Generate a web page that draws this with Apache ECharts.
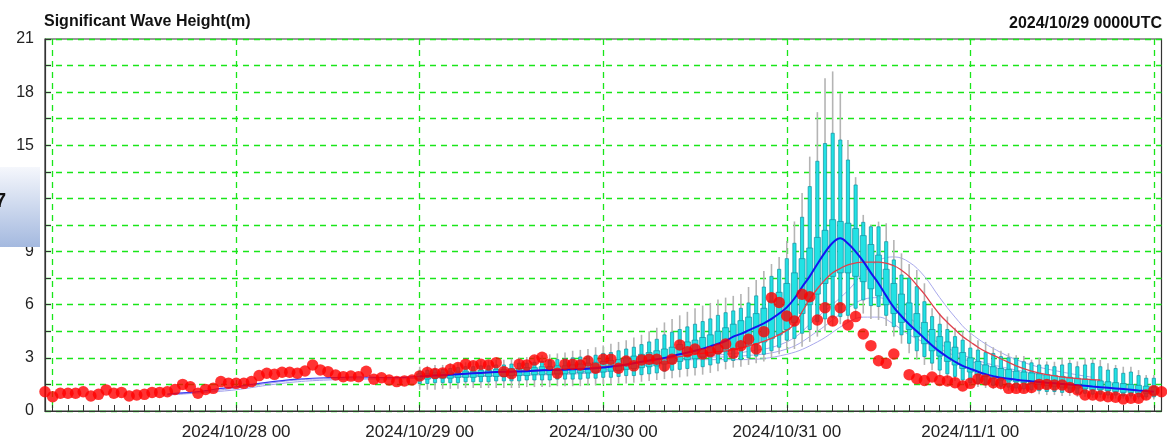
<!DOCTYPE html>
<html><head><meta charset="utf-8">
<script src="https://cdn.jsdelivr.net/npm/echarts@6/dist/echarts.min.js"></script>
<style>html,body{margin:0;padding:0;background:#fff;}#c{width:1167px;height:442px;}</style>
</head><body><div id="c"></div>
<script>
// ---------- DATA ----------
var titleText = 'Significant Wave Height(m)';
var initText = '2024/10/29 0000UTC';
var xStartHour = -1, xEndHour = 145;          // hours from 2024/10/27 00 UTC
var xTickHours  = [24, 48, 72, 96, 120];
var xTickLabels = ['2024/10/28 00', '2024/10/29 00', '2024/10/30 00', '2024/10/31 00', '2024/11/1 00'];

// observations (red dots), hourly from hour -1
var obsStart = -1;
var obsVals = [1.09,0.81,1.0,1.0,1.0,1.09,0.85,0.94,1.19,1.0,1.05,0.85,0.9,0.94,1.05,1.05,1.09,1.22,1.5,1.37,
1.0,1.22,1.28,1.66,1.56,1.56,1.56,1.66,2.0,2.13,2.07,2.19,2.19,2.13,2.26,2.6,2.32,2.22,2.03,1.94,
1.97,1.94,2.24,1.79,1.88,1.75,1.66,1.7,1.75,1.98,2.18,2.12,2.15,2.35,2.45,2.64,2.55,2.64,2.6,2.73,
2.22,2.1,2.64,2.6,2.88,3.03,2.64,2.13,2.64,2.64,2.6,2.82,2.41,2.92,2.92,2.41,2.82,2.55,2.88,2.92,
2.92,2.54,2.92,3.73,3.35,3.5,3.22,3.35,3.5,3.78,3.26,3.69,4.05,3.5,4.48,6.4,6.13,5.36,5.08,6.59,
6.45,5.14,5.83,5.08,5.83,4.86,5.33,4.35,3.69,2.84,2.69,3.22,null,2.05,1.82,1.72,1.92,1.72,1.7,1.6,
1.41,1.56,1.81,1.75,1.6,1.56,1.28,1.28,1.28,1.33,1.5,1.5,1.47,1.47,1.33,1.19,0.9,0.9,0.85,0.81,
0.78,0.68,0.72,0.72,0.9,1.15,1.09];

// analysis line (thin blue) before forecast start
var anaHours = [15,16,18,20,22,24,26,28,30,32,34,36,38,40,42,44,46,48];
var anaVals  = [0.95,1.0,1.05,1.15,1.28,1.37,1.5,1.62,1.72,1.8,1.85,1.88,1.9,1.92,1.9,1.88,1.9,1.95];

// ensemble mean (blue)
var meanHours = [48,50,52,54,56,58,60,62,64,66,68,70,72,74,76,78,80,82,84,86,88,
89,90,91,92,93,94,95,96,97,98,99,100,101,102,103,104,105,106,107,108,109,110,111,112,113,114,115,116,117,118,119,120,121,122,123,124,
126,128,130,132,134,136,138,140,142,144];
var meanVals = [1.95,2.0,2.05,2.1,2.15,2.2,2.22,2.25,2.3,2.32,2.35,2.38,2.45,2.55,2.7,2.85,3.0,3.2,3.4,3.65,3.95,
4.2,4.35,4.55,4.75,4.95,5.2,5.5,5.85,6.35,7.0,7.6,8.3,8.95,9.5,9.75,9.45,9.0,8.45,7.8,7.2,6.5,5.85,5.35,4.9,4.5,4.1,3.7,3.35,3.05,2.78,2.55,2.38,2.22,2.08,1.97,1.88,
1.77,1.68,1.6,1.53,1.46,1.38,1.31,1.24,1.16,1.09];

// control forecast (red line)
var ctlHours = [48,56,64,72,80,84,86,88,90,92,94,96,97,98,99,100,101,102,103,104,106,108,110,111,112,113,114,115,116,117,118,119,120,121,122,124,126,128,130,132,134,136,137];
var ctlVals  = [2.0,2.15,2.3,2.5,2.95,3.2,3.3,3.4,3.55,3.8,4.1,4.55,4.9,5.6,6.3,6.9,7.4,7.8,8.05,8.25,8.4,8.4,8.2,7.95,7.6,7.1,6.6,6.0,5.45,5.0,4.6,4.2,3.9,3.6,3.35,2.95,2.55,2.25,2.05,1.92,1.83,1.77,1.75];

// other thin (lavender) lines
var lavAHours = [15,20,24,28,32,36,40,44,48];
var lavAVals  = [0.9,1.05,1.2,1.45,1.65,1.75,1.8,1.8,1.85];
var lavBHours = [15,20,24,28,32,36,40,44,48];
var lavBVals  = [0.92,1.1,1.3,1.55,1.75,1.82,1.85,1.82,1.9];
var lavCHours = [84,90,96,100,104,106,108,110,112,114,116,118,120,124,128,132,136];
var lavCVals  = [3.1,3.3,3.9,5.3,6.8,7.8,8.5,8.7,8.4,7.6,6.4,5.3,4.4,3.3,2.6,2.2,1.9];
var lavDHours = [48,60,72,84,90,96,100,104,106,108,110,112,114,116,120,124,130];
var lavDVals  = [1.9,2.05,2.3,3.0,3.1,3.5,4.5,5.8,6.3,6.4,6.0,5.3,4.5,3.8,3.0,2.5,2.0];
var lavEHours = [48,60,72,84,90,96,100,104,106,108,110,112,116,120,126];
var lavEVals  = [1.85,2.0,2.2,2.9,2.9,3.2,3.9,5.0,5.3,5.3,4.9,4.3,3.5,2.8,2.2];

// ensemble box plots, hourly from hour 48
var boxStart = 48;
var bMin = [1.2,1.2,1.2,1.25,1.25,1.25,1.3,1.3,1.3,1.3,1.3,1.3,1.3,
1.3,1.35,1.35,1.35,1.35,1.4,1.4,1.4,1.4,1.45,1.45,1.5,
1.5,1.55,1.55,1.6,1.65,1.7,1.75,1.8,1.85,1.9,1.95,2.0,
2.05,2.15,2.25,2.35,2.45,2.5,2.6,2.7,2.8,3.0,3.2,3.44,
3.5,3.63,3.9,4.2,4.5,4.8,4.9,5.0,5.2,5.5,5.2,5.14,
4.8,4.2,3.8,3.26,2.9,2.6,2.3,1.94,1.85,1.7,1.5,1.4,
1.35,1.3,1.25,1.2,1.15,1.1,1.05,1.0,0.95,0.9,0.9,0.85,
0.85,0.8,0.8,0.75,0.75,0.7,0.7,0.7,0.7,0.65,0.65,0.65];
var b10 = [1.55,1.55,1.6,1.6,1.6,1.6,1.65,1.65,1.65,1.65,1.7,1.7,1.7,
1.7,1.75,1.75,1.75,1.75,1.8,1.8,1.8,1.8,1.85,1.85,1.9,
1.9,1.95,2.0,2.0,2.05,2.1,2.15,2.25,2.3,2.35,2.4,2.45,
2.5,2.6,2.7,2.8,2.85,2.9,3.0,3.1,3.2,3.4,3.6,4.0,
4.1,4.39,4.6,5.04,5.2,5.3,5.33,5.4,5.8,6.27,5.95,5.9,
5.4,4.76,4.3,3.82,3.4,3.07,2.7,2.31,2.1,1.95,1.75,1.6,
1.55,1.5,1.45,1.4,1.35,1.3,1.25,1.2,1.15,1.1,1.1,1.05,
1.05,1.0,1.0,0.95,0.95,0.9,0.9,0.85,0.85,0.8,0.8,0.8];
var b25 = [1.8,1.8,1.85,1.85,1.85,1.9,1.9,1.9,1.95,1.95,1.95,1.95,2.0,
2.0,2.0,2.05,2.05,2.05,2.1,2.1,2.1,2.15,2.15,2.2,2.2,
2.25,2.3,2.35,2.4,2.45,2.5,2.55,2.65,2.7,2.8,2.9,2.95,
3.05,3.15,3.25,3.35,3.5,3.6,3.7,3.8,3.9,4.1,4.3,4.6,
5.0,5.5,6.0,6.6,7.2,7.6,7.8,7.8,7.6,7.3,6.9,6.5,
6.0,5.5,5.0,4.6,4.2,3.8,3.4,3.1,2.8,2.6,2.4,2.2,
2.05,1.95,1.85,1.75,1.7,1.65,1.6,1.55,1.5,1.45,1.4,1.35,
1.3,1.3,1.25,1.2,1.2,1.15,1.1,1.05,1.05,1.0,1.0,0.95];
var b75 = [2.1,2.1,2.15,2.15,2.2,2.2,2.25,2.25,2.3,2.3,2.35,2.35,2.4,
2.4,2.45,2.45,2.5,2.5,2.55,2.55,2.6,2.65,2.7,2.75,2.8,
2.85,2.9,3.0,3.1,3.2,3.3,3.4,3.5,3.6,3.75,3.9,4.0,
4.15,4.3,4.5,4.7,4.9,5.1,5.3,5.5,5.8,6.2,6.7,7.2,
7.8,8.6,9.2,9.8,10.2,10.8,10.7,10.6,10.3,9.9,9.4,8.8,
8.0,7.2,6.6,6.1,5.5,5.0,4.6,4.2,3.9,3.6,3.3,3.0,
2.8,2.6,2.5,2.4,2.35,2.25,2.2,2.15,2.1,2.05,2.0,1.95,
1.9,1.85,1.8,1.75,1.7,1.65,1.6,1.55,1.5,1.45,1.4,1.35];
var b90 = [2.25,2.3,2.35,2.35,2.4,2.45,2.5,2.5,2.55,2.55,2.6,2.6,2.65,
2.7,2.7,2.75,2.8,2.85,2.9,2.95,3.0,3.05,3.1,3.15,3.25,
3.3,3.4,3.5,3.6,3.75,3.9,4.05,4.3,4.45,4.6,4.75,4.9,
5.05,5.2,5.4,5.55,5.65,5.8,6.1,6.5,7.0,7.6,8.0,8.6,
9.47,10.94,12.67,14.1,15.1,15.68,15.3,14.17,12.76,10.65,10.4,10.4,
9.56,8.53,7.68,7.5,7.02,6.17,5.33,4.9,4.6,4.2,4.0,3.55,
3.44,3.3,3.25,3.07,3.0,2.97,2.78,2.72,2.6,2.6,2.5,2.6,
2.69,2.5,2.6,2.69,2.5,2.31,2.4,2.13,2.2,2.0,1.85,1.85];
var bMax = [2.5,2.55,2.6,2.6,2.7,2.7,2.75,2.8,2.85,2.85,2.9,2.9,2.95,
3.0,3.05,3.1,3.15,3.2,3.25,3.3,3.4,3.45,3.5,3.6,3.7,
3.8,3.9,4.0,4.15,4.3,4.5,4.7,5.0,5.2,5.4,5.6,5.8,
5.95,6.1,6.3,6.4,6.5,6.6,7.0,7.4,7.9,8.3,8.7,9.6,
10.7,12.3,14.36,16.87,18.78,19.17,17.94,15.3,13.2,11.07,10.5,10.69,
10.6,9.66,8.9,8.3,7.96,7.21,5.8,5.5,5.33,4.7,4.5,4.4,
4.0,3.9,3.6,3.4,3.26,3.15,3.1,2.9,3.0,2.8,2.78,2.97,
2.9,2.8,2.97,2.97,2.88,2.69,2.6,2.5,2.5,2.31,2.03,2.03];

// ---------- BUILD ----------
var cats = [];
for (var h = xStartHour; h <= xEndHour; h++) cats.push(String(h));
function pairs(hours, vals) { return hours.map(function (h, i) { return [String(h), vals[i]]; }); }
var obsData = [];
obsVals.forEach(function (v, i) { if (v !== null) obsData.push([String(obsStart + i), v]); });
var boxData = bMin.map(function (v, i) {
  return [cats.indexOf(String(boxStart + i)), bMin[i], b10[i], b25[i], b75[i], b90[i], bMax[i]];
});
var GREEN = '#19e619';
function thinLine(name, hours, vals, color, width, z) {
  return { name: name, type: 'line', data: pairs(hours, vals), smooth: 0.4, symbol: 'none', z: z,
    lineStyle: { color: color, width: width }, silent: true };
}

var chart = echarts.init(document.getElementById('c'), null, { renderer: 'canvas' });
chart.setOption({
  animation: false,
  backgroundColor: '#ffffff',
  grid: { left: 45, right: 5.5, top: 39, bottom: 31, show: true, borderColor: '#333', borderWidth: 1.2, backgroundColor: 'transparent' },
  graphic: [
    { type: 'rect', left: 0, top: 167, z: 100, shape: { width: 40, height: 80 },
      style: { fill: new echarts.graphic.LinearGradient(0, 0, 0, 1, [{ offset: 0, color: '#f5f7fc' }, { offset: 1, color: '#a4b9df' }]) } },
    { type: 'text', x: -5, y: 201, z: 101, style: { text: '7', font: 'bold 20px "Liberation Sans", Arial', fill: '#111', verticalAlign: 'middle' } },
    { type: 'text', x: 44, y: 21.5, style: { text: titleText, font: 'bold 16px "Liberation Sans", Arial', fill: '#111', verticalAlign: 'middle' } },
    { type: 'text', x: 1162, y: 24, style: { text: initText, font: 'bold 16px "Liberation Sans", Arial', fill: '#111', align: 'right', verticalAlign: 'middle' } }
  ],
  xAxis: {
    type: 'category', data: cats, boundaryGap: false,
    axisLine: { lineStyle: { color: '#333', width: 1.2 } },
    axisTick: { inside: true, length: 6, lineStyle: { color: '#333' },
      interval: function (i, v) { return Number(v) % 2 === 0; } },
    axisLabel: { fontSize: 17, color: '#222', fontFamily: '"Liberation Sans", Arial', margin: 13,
      interval: function (i, v) { return xTickHours.indexOf(Number(v)) >= 0; },
      formatter: function (v) { var k = xTickHours.indexOf(Number(v)); return k >= 0 ? xTickLabels[k] : ''; } },
    splitLine: { show: true, interval: function (i, v) { return Number(v) % 24 === 0; },
      lineStyle: { color: GREEN, type: [6, 5], width: 1.3 } }
  },
  yAxis: {
    type: 'value', min: 0, max: 21, interval: 1.5,
    axisLine: { show: true, lineStyle: { color: '#333', width: 1.2 } },
    axisTick: { show: true, inside: true, length: 6, lineStyle: { color: '#333' } },
    axisLabel: { fontSize: 16, color: '#222', fontFamily: '"Liberation Sans", Arial', margin: 11,
      formatter: function (v) { return (v % 3 === 0) ? String(v) : ''; } },
    splitLine: { show: true, lineStyle: { color: GREEN, type: [6, 5], width: 1.3 } }
  },
  series: [
    thinLine('lavA', lavAHours, lavAVals, '#a0a0ec', 1, 2),
    thinLine('lavB', lavBHours, lavBVals, '#a0a0ec', 1, 2),
    thinLine('lavC', lavCHours, lavCVals, '#a8a8ec', 1, 2),
    thinLine('lavD', lavDHours, lavDVals, '#a8a8ec', 1, 2),
    thinLine('lavE', lavEHours, lavEVals, '#a8a8ec', 1, 2),
    {
      name: 'ensemble', type: 'custom', z: 3, silent: true,
      data: boxData,
      encode: { x: 0, y: [1, 2, 3, 4, 5, 6] },
      renderItem: function (params, api) {
        var xi = api.value(0);
        var x = api.coord([xi, 0])[0];
        function Y(k) { return api.coord([xi, api.value(k)])[1]; }
        var y0 = Y(1), y10 = Y(2), y25 = Y(3), y75 = Y(4), y90 = Y(5), y100 = Y(6);
        return { type: 'group', children: [
          { type: 'line', shape: { x1: x, y1: y0, x2: x, y2: y100 }, style: { stroke: '#b4b4b4', lineWidth: 1.6 } },
          { type: 'rect', shape: { x: x - 1.6, y: y90, width: 3.2, height: y10 - y90 }, style: { fill: '#22e2e4', stroke: '#1190a0', lineWidth: 0.7 } },
          { type: 'rect', shape: { x: x - 3, y: y75, width: 6, height: y25 - y75 }, style: { fill: '#22e2e4', stroke: '#1190a0', lineWidth: 0.7 } }
        ] };
      }
    },
    thinLine('analysis', anaHours, anaVals, '#3b3bf0', 1.2, 4),
    thinLine('control', ctlHours, ctlVals, '#e0404c', 1.3, 5),
    thinLine('mean', meanHours, meanVals, '#1414f0', 2, 6),
    { name: 'obs', type: 'scatter', data: obsData, symbol: 'circle', symbolSize: 11.5, z: 8, silent: true,
      itemStyle: { color: '#ff0000' } }
  ]
});
</script></body></html>
